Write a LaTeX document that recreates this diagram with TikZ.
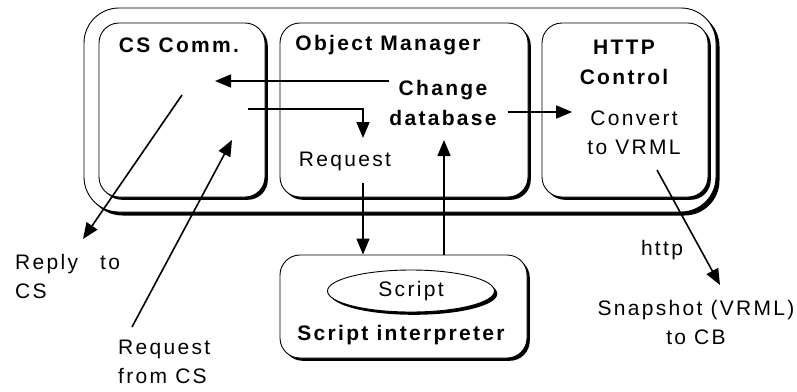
\documentclass[tikz,border=0pt]{standalone}
\usepackage{fontspec}
\setmainfont{Liberation Sans}[LetterSpace=11]
\usetikzlibrary{arrows.meta,positioning,shadows,shapes.geometric}

\begin{document}
\begin{tikzpicture}[x=1pt, y=-1pt, every node/.style={font=\fontsize{21}{29}\selectfont},
  box/.style={draw, line width=0.9pt, fill=white, rounded corners=20pt, inner sep=0pt, drop shadow={shadow xshift=2.8pt, shadow yshift=-2.8pt, fill=black, opacity=1}},
  title/.style={font=\fontsize{21}{30}\selectfont\bfseries, align=center, inner sep=0pt},
  txt/.style={align=center, inner sep=0pt},
  arr/.style={-{Triangle[length=16pt,width=13pt]}, line width=1.6pt}]
\useasboundingbox (0,0) rectangle (797,391);

% the server and its three parts
\node[box, rounded corners=35pt, minimum width=632pt, minimum height=204pt, drop shadow={shadow xshift=3.5pt, shadow yshift=-3.5pt, fill=black, opacity=1}] (server) at (400,110) {};
\node[box, minimum width=166pt, minimum height=174pt] (cscomm) at (182,110) {};
\node[box, minimum width=248pt, minimum height=174pt] (objman) at (404,110) {};
\node[box, minimum width=166pt, minimum height=174pt] (httpctl) at (625,110) {};
\node[box, minimum width=247pt, minimum height=103pt] (interp) at (403.5,306.5) {};
\node[box, ellipse, minimum width=167pt, minimum height=42pt] (script) at (411,291) {Script};

\node[title] (cstitle) at (179,45) {CS Comm.};
\node[title] (omtitle) at (388,45) {Object Manager};
\node[title] (httptitle) at (624,62) {HTTP\\Control};
\node[title] (chg) at (443,103) {Change\\database};
\node[txt] (req) at (345,161) {Request};
\node[txt] (conv) at (634,133) {Convert\\to VRML};
\node[title] (interptitle) at (401,335) {Script interpreter};

% outside the server
\node[txt, align=left, anchor=west] (reply) at (15,276) {Reply\hspace{14pt} to\\CS};
\node[txt, align=left, anchor=west] (reqcs) at (118,362) {Request\\from CS};
\node[txt] (http) at (662,250) {http};
\node[txt] (snap) at (696,322) {Snapshot (VRML)\\to CB};

% connectors
\coordinate (csin) at (215,81);
\coordinate (csout) at (248,109);
\coordinate (reqin) at (363,138);
\coordinate (reqdown) at (363,183);
\coordinate (dbup) at (444,140);
\coordinate (replyfrom) at (182,95);
\coordinate (replyto) at (83,239);
\coordinate (reqfrom) at (132,327);
\coordinate (reqto) at (232,140);
\coordinate (vrmlfrom) at (657,170);
\coordinate (vrmlto) at (720,285);

\draw[arr] (csin -| chg.west) -- (csin);
\draw[arr] (csout) -| (reqin);
\draw[arr] ([xshift=11pt]chg.east |- 0,112) -- ([xshift=-15pt]conv.west |- 0,112);
\draw[arr] (reqdown) -- (reqdown |- interp.north);
\draw[arr] (dbup |- interp.north) -- (dbup);
\draw[arr] (replyfrom) -- (replyto);
\draw[arr] (reqfrom) -- (reqto);
\draw[arr] (vrmlfrom) -- (vrmlto);
\end{tikzpicture}
\end{document}
